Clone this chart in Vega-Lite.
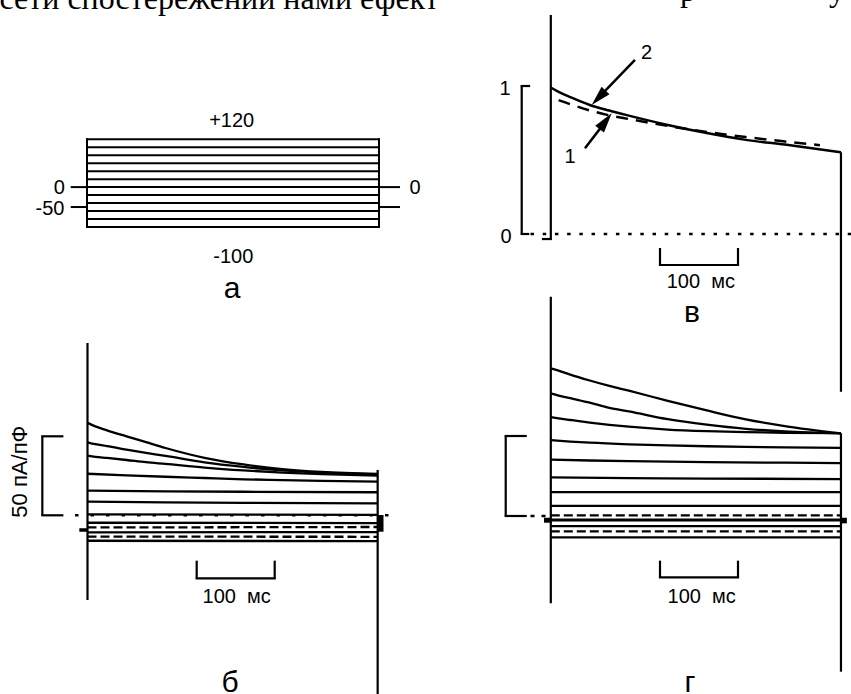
{
"$schema": "https://vega.github.io/schema/vega-lite/v6.json",
"width": 851, "height": 694,
"autosize": {"type": "none"},
"padding": 0,
"background": "white",
"config": {"view": {"stroke": null}},
"datasets": {
"a_h": [{"t":0,"t2":372,"y":-100},{"t":0,"t2":372,"y":-80},{"t":0,"t2":372,"y":-60},{"t":0,"t2":372,"y":-40},{"t":0,"t2":372,"y":-20},{"t":0,"t2":372,"y":0},{"t":0,"t2":372,"y":20},{"t":0,"t2":372,"y":40},{"t":0,"t2":372,"y":60},{"t":0,"t2":372,"y":80},{"t":0,"t2":372,"y":100},{"t":0,"t2":372,"y":120},{"t":-19.5,"t2":0,"y":0},{"t":-19.5,"t2":0,"y":-50},{"t":372,"t2":397.5,"y":0},{"t":372,"t2":397.5,"y":-50}],
"a_v": [{"t":0,"y":-100,"y2":120},{"t":372,"y":-100,"y2":120}],
"a_txt": [{"t":184.3,"y":151.5,"label":"+120"},{"t":186.4,"y":-189.7,"label":"-100"},{"t":-35.3,"y":-18.1,"label":"0"},{"t":-47.1,"y":-70,"label":"-50"},{"t":417.8,"y":-18.1,"label":"0"}],
"a_lbl": [{"t":184.7,"y":-279,"label":"а"}],
"page": [{"t":-111.5,"y":446.8,"label":"сети спостережений нами ефект"}],
"page2": [{"t":765.6,"y":466.9,"label":"р"},{"t":955.4,"y":466.9,"label":"у"}],
"b_tr": [
{"id":"b1","t":0,"y":58.5},{"id":"b1","t":10,"y":56.3},{"id":"b1","t":25,"y":53.8},{"id":"b1","t":50,"y":50.0},{"id":"b1","t":75,"y":46.3},{"id":"b1","t":100,"y":42.6},{"id":"b1","t":150,"y":36.4},{"id":"b1","t":200,"y":32.2},{"id":"b1","t":250,"y":29.2},{"id":"b1","t":300,"y":27.4},{"id":"b1","t":372,"y":26.2},
{"id":"b2","t":0,"y":46.2},{"id":"b2","t":10,"y":45.0},{"id":"b2","t":25,"y":43.8},{"id":"b2","t":50,"y":41.6},{"id":"b2","t":75,"y":39.5},{"id":"b2","t":100,"y":37.6},{"id":"b2","t":150,"y":33.5},{"id":"b2","t":200,"y":30.6},{"id":"b2","t":250,"y":28.4},{"id":"b2","t":300,"y":27.0},{"id":"b2","t":372,"y":25.9},
{"id":"b3","t":0,"y":37.8},{"id":"b3","t":10,"y":37.0},{"id":"b3","t":25,"y":36.3},{"id":"b3","t":50,"y":35.0},{"id":"b3","t":75,"y":33.6},{"id":"b3","t":100,"y":32.5},{"id":"b3","t":150,"y":30.2},{"id":"b3","t":200,"y":28.4},{"id":"b3","t":250,"y":27.0},{"id":"b3","t":300,"y":26.0},{"id":"b3","t":372,"y":25.1},
{"id":"b4","t":0,"y":26.3},{"id":"b4","t":50,"y":25.3},{"id":"b4","t":100,"y":24.4},{"id":"b4","t":150,"y":23.6},{"id":"b4","t":200,"y":22.8},{"id":"b4","t":250,"y":22.3},{"id":"b4","t":300,"y":21.8},{"id":"b4","t":372,"y":21.3},
{"id":"b5","t":0,"y":15.6},{"id":"b5","t":100,"y":15.2},{"id":"b5","t":200,"y":14.9},{"id":"b5","t":372,"y":14.6},
{"id":"b6","t":0,"y":8.6},{"id":"b6","t":100,"y":8.2},{"id":"b6","t":200,"y":7.9},{"id":"b6","t":372,"y":7.6},
{"id":"b7","t":0,"y":0.6},{"id":"b7","t":372,"y":0.3},
{"id":"b8","t":0,"y":-4.7},{"id":"b8","t":372,"y":-4.9},
{"id":"b10","t":0,"y":-10.8},{"id":"b10","t":372,"y":-10.6},
{"id":"b12","t":0,"y":-16.1},{"id":"b12","t":372,"y":-16.4}],
"b_trd": [{"id":"b9","t":0,"y":-7.7},{"id":"b9","t":372,"y":-7.4},{"id":"b11","t":0,"y":-13.5},{"id":"b11","t":372,"y":-13.6}],
"b_rv": [{"t":0,"y":109.1,"y2":-53.6},{"t":372,"y":28.7,"y2":-120},{"t":-57.9,"y":50,"y2":0},{"t":140,"y":-28.7,"y2":-39.9},{"t":240,"y":-28.7,"y2":-39.9}],
"b_rh": [{"t":-57.9,"t2":-32.3,"y":50},{"t":-57.9,"t2":-32.3,"y":0},{"t":140,"t2":240,"y":-39.9}],
"b_hold": [{"t":-10.5,"t2":0,"y":-9.3}],
"b_zero": [{"t":-16,"t2":394.2,"y":0}],
"b_rect": [{"t":372,"t2":379.5,"y":0.2,"y2":-10.4}],
"b_txt": [{"t":191.3,"y":-55.7,"label":"100\u00a0\u00a0мс"}],
"b_lbl": [{"t":182.7,"y":-111.6,"label":"б"}],
"b_rot": [{"t":-77.2,"y":27.6,"label":"50 пА/пФ"}],
"v_tr2": [{"t":0,"y":0.99},{"t":10,"y":0.96},{"t":25,"y":0.925},{"t":50,"y":0.872},{"t":75,"y":0.834},{"t":100,"y":0.8},{"t":150,"y":0.737},{"t":200,"y":0.682},{"t":250,"y":0.636},{"t":300,"y":0.604},{"t":372,"y":0.552}],
"v_tr1": [{"t":10,"y":0.905},{"t":25,"y":0.877},{"t":50,"y":0.835},{"t":75,"y":0.802},{"t":100,"y":0.777},{"t":150,"y":0.73},{"t":200,"y":0.69},{"t":250,"y":0.655},{"t":300,"y":0.625},{"t":345,"y":0.6}],
"v_rv": [{"t":0,"y":1.48,"y2":-0.034},{"t":372,"y":0.552,"y2":-1.066},{"t":-37.3,"y":1,"y2":0},{"t":140,"y":-0.0946,"y2":-0.2095},{"t":240,"y":-0.0946,"y2":-0.2095}],
"v_rh": [{"t":-37.3,"t2":-27.9,"y":1},{"t":-37.3,"t2":-29,"y":0},{"t":-10,"t2":0,"y":-0.034},{"t":140,"t2":240,"y":-0.2095}],
"v_zero": [{"t":-26,"t2":385,"y":0}],
"v_shaft": [{"t":107.9,"y":1.176,"t2":63.1,"y2":0.932},{"t":43.8,"y":0.579,"t2":70.3,"y2":0.761}],
"v_head2": [{"t":52.4,"y":0.872}],
"v_head1": [{"t":78.1,"y":0.816}],
"v_txt": [{"t":122.9,"y":1.18,"label":"2"},{"t":24.6,"y":0.478,"label":"1"},{"t":-58.7,"y":0.939,"label":"1"},{"t":-57.4,"y":-0.063,"label":"0"},{"t":192.3,"y":-0.367,"label":"100\u00a0\u00a0мс"}],
"v_lbl": [{"t":181,"y":-0.5926,"label":"в"}],
"g_tr": [
{"id":"g1","t":0,"y":92.3},{"id":"g1","t":10,"y":90.9},{"id":"g1","t":25,"y":88.4},{"id":"g1","t":50,"y":84.7},{"id":"g1","t":75,"y":81.3},{"id":"g1","t":100,"y":78.3},{"id":"g1","t":150,"y":72.0},{"id":"g1","t":200,"y":66.0},{"id":"g1","t":250,"y":60.4},{"id":"g1","t":300,"y":56.2},{"id":"g1","t":372,"y":51.6},
{"id":"g2","t":0,"y":76.7},{"id":"g2","t":10,"y":75.3},{"id":"g2","t":25,"y":73.6},{"id":"g2","t":50,"y":70.8},{"id":"g2","t":75,"y":67.6},{"id":"g2","t":100,"y":65.4},{"id":"g2","t":150,"y":60.5},{"id":"g2","t":200,"y":57.1},{"id":"g2","t":250,"y":54.5},{"id":"g2","t":300,"y":52.9},{"id":"g2","t":372,"y":51.6},
{"id":"g3","t":0,"y":61.8},{"id":"g3","t":10,"y":61.0},{"id":"g3","t":25,"y":60.0},{"id":"g3","t":50,"y":58.4},{"id":"g3","t":75,"y":57.0},{"id":"g3","t":100,"y":55.8},{"id":"g3","t":150,"y":54.0},{"id":"g3","t":200,"y":53.0},{"id":"g3","t":250,"y":52.4},{"id":"g3","t":300,"y":52.0},{"id":"g3","t":372,"y":51.8},
{"id":"g4","t":0,"y":47.4},{"id":"g4","t":25,"y":46.5},{"id":"g4","t":50,"y":45.8},{"id":"g4","t":100,"y":44.8},{"id":"g4","t":150,"y":44.1},{"id":"g4","t":200,"y":43.6},{"id":"g4","t":250,"y":43.2},{"id":"g4","t":300,"y":42.9},{"id":"g4","t":372,"y":42.6},
{"id":"g5","t":0,"y":35.2},{"id":"g5","t":50,"y":34.7},{"id":"g5","t":100,"y":34.3},{"id":"g5","t":200,"y":33.7},{"id":"g5","t":300,"y":33.3},{"id":"g5","t":372,"y":33.1},
{"id":"g6","t":0,"y":24.1},{"id":"g6","t":100,"y":23.7},{"id":"g6","t":200,"y":23.4},{"id":"g6","t":372,"y":23.1},
{"id":"g7","t":0,"y":14.9},{"id":"g7","t":372,"y":14.9},
{"id":"g8","t":0,"y":6.3},{"id":"g8","t":372,"y":6.3},
{"id":"g11","t":0,"y":-6.3},{"id":"g11","t":372,"y":-6.3},
{"id":"g13","t":0,"y":-13.4},{"id":"g13","t":372,"y":-13.4}],
"g_trd": [{"id":"g9","t":0,"y":0.4},{"id":"g9","t":372,"y":0.4},{"id":"g12","t":0,"y":-9.6},{"id":"g12","t":372,"y":-9.6}],
"g_thick": [{"id":"g10","t":0,"y":-2.5},{"id":"g10","t":372,"y":-2.5}],
"g_rv": [{"t":0,"y":137.1,"y2":-54.6},{"t":372,"y":51.7,"y2":-97.3},{"t":-57.8,"y":50,"y2":0},{"t":140,"y":-27.9,"y2":-38.3},{"t":240,"y":-27.9,"y2":-38.3}],
"g_rh": [{"t":-57.8,"t2":-32.2,"y":50},{"t":-57.8,"t2":-32.2,"y":0},{"t":140,"t2":240,"y":-38.3}],
"g_zero": [{"t":-26,"t2":-6,"y":0}],
"g_rect": [{"t":-8.7,"t2":1.5,"y":-1.1,"y2":-4.2},{"t":371,"t2":379.6,"y":-1.1,"y2":-4.6}],
"g_txt": [{"t":193.5,"y":-54.2,"label":"100\u00a0\u00a0мс"}],
"g_lbl": [{"t":178.5,"y":-110.2,"label":"г"}]
},
"resolve": {"scale": {"x": "independent", "y": "independent"}},
"layer": [
{
"encoding": {
"x": {"field": "t", "type": "quantitative", "scale": {"domain": [-110.83, 973.25], "nice": false, "zero": false}, "axis": null},
"y": {"field": "y", "type": "quantitative", "scale": {"domain": [-1271.7, 469.4], "nice": false, "zero": false}, "axis": null}
},
"layer": [
{"data": {"name": "a_h"}, "mark": {"type": "rule", "strokeWidth": 2, "color": "black", "strokeCap": "square"}, "encoding": {"x2": {"field": "t2"}}},
{"data": {"name": "a_v"}, "mark": {"type": "rule", "strokeWidth": 2, "color": "black", "strokeCap": "square"}, "encoding": {"y2": {"field": "y2"}}},
{"data": {"name": "a_txt"}, "mark": {"type": "text", "font": "Liberation Sans", "fontSize": 20, "align": "center", "baseline": "alphabetic", "color": "black"}, "encoding": {"text": {"field": "label"}}},
{"data": {"name": "a_lbl"}, "mark": {"type": "text", "font": "Liberation Sans", "fontSize": 30, "align": "center", "baseline": "alphabetic", "color": "black"}, "encoding": {"text": {"field": "label"}}},
{"data": {"name": "page"}, "mark": {"type": "text", "font": "Liberation Serif", "fontSize": 32, "align": "left", "baseline": "alphabetic", "color": "black"}, "encoding": {"text": {"field": "label"}}},
{"data": {"name": "page2"}, "mark": {"type": "text", "font": "Liberation Serif", "fontSize": 32, "align": "center", "baseline": "alphabetic", "color": "black"}, "encoding": {"text": {"field": "label"}}}
]
},
{
"encoding": {
"x": {"field": "t", "type": "quantitative", "scale": {"domain": [-112.18, 978.85], "nice": false, "zero": false}, "axis": null},
"y": {"field": "y", "type": "quantitative", "scale": {"domain": [-113.1, 326.14], "nice": false, "zero": false}, "axis": null}
},
"layer": [
{"data": {"name": "b_tr"}, "mark": {"type": "line", "strokeWidth": 2.3, "color": "black", "interpolate": "monotone"}, "encoding": {"detail": {"field": "id"}}},
{"data": {"name": "b_trd"}, "mark": {"type": "line", "strokeWidth": 2.3, "color": "black", "strokeDash": [9, 4]}, "encoding": {"detail": {"field": "id"}}},
{"data": {"name": "b_rv"}, "mark": {"type": "rule", "strokeWidth": 2.2, "color": "black"}, "encoding": {"y2": {"field": "y2"}}},
{"data": {"name": "b_rh"}, "mark": {"type": "rule", "strokeWidth": 2.2, "color": "black", "strokeCap": "square"}, "encoding": {"x2": {"field": "t2"}}},
{"data": {"name": "b_hold"}, "mark": {"type": "rule", "strokeWidth": 3.5, "color": "black"}, "encoding": {"x2": {"field": "t2"}}},
{"data": {"name": "b_zero"}, "mark": {"type": "rule", "strokeWidth": 2.5, "color": "black", "strokeDash": [3.5, 12]}, "encoding": {"x2": {"field": "t2"}}},
{"data": {"name": "b_rect"}, "mark": {"type": "rect", "color": "black"}, "encoding": {"x2": {"field": "t2"}, "y2": {"field": "y2"}}},
{"data": {"name": "b_txt"}, "mark": {"type": "text", "font": "Liberation Sans", "fontSize": 20, "align": "center", "baseline": "alphabetic", "color": "black"}, "encoding": {"text": {"field": "label"}}},
{"data": {"name": "b_lbl"}, "mark": {"type": "text", "font": "Liberation Sans", "fontSize": 30, "align": "center", "baseline": "alphabetic", "color": "black"}, "encoding": {"text": {"field": "label"}}},
{"data": {"name": "b_rot"}, "mark": {"type": "text", "font": "Liberation Sans", "fontSize": 22, "align": "center", "baseline": "alphabetic", "angle": 270, "color": "black"}, "encoding": {"text": {"field": "label"}}}
]
},
{
"encoding": {
"x": {"field": "t", "type": "quantitative", "scale": {"domain": [-706.15, 384.87], "nice": false, "zero": false}, "axis": null},
"y": {"field": "y", "type": "quantitative", "scale": {"domain": [-3.1081, 1.5811], "nice": false, "zero": false}, "axis": null}
},
"layer": [
{"data": {"name": "v_tr2"}, "mark": {"type": "line", "strokeWidth": 2.5, "color": "black", "interpolate": "monotone"}},
{"data": {"name": "v_tr1"}, "mark": {"type": "line", "strokeWidth": 2.5, "color": "black", "interpolate": "monotone", "strokeDash": [12, 8]}},
{"data": {"name": "v_rv"}, "mark": {"type": "rule", "strokeWidth": 2.2, "color": "black"}, "encoding": {"y2": {"field": "y2"}}},
{"data": {"name": "v_rh"}, "mark": {"type": "rule", "strokeWidth": 2.2, "color": "black", "strokeCap": "square"}, "encoding": {"x2": {"field": "t2"}}},
{"data": {"name": "v_zero"}, "mark": {"type": "rule", "strokeWidth": 2.5, "color": "black", "strokeDash": [3.5, 8.7]}, "encoding": {"x2": {"field": "t2"}}},
{"data": {"name": "v_shaft"}, "mark": {"type": "rule", "strokeWidth": 2.5, "color": "black"}, "encoding": {"x2": {"field": "t2"}, "y2": {"field": "y2"}}},
{"data": {"name": "v_head2"}, "mark": {"type": "point", "shape": "M0,0L1.1,4L-1.1,4Z", "size": 100, "filled": true, "color": "black", "opacity": 1, "strokeWidth": 0, "angle": 223.9}},
{"data": {"name": "v_head1"}, "mark": {"type": "point", "shape": "M0,0L1.1,4L-1.1,4Z", "size": 100, "filled": true, "color": "black", "opacity": 1, "strokeWidth": 0, "angle": 37.3}},
{"data": {"name": "v_txt"}, "mark": {"type": "text", "font": "Liberation Sans", "fontSize": 20, "align": "center", "baseline": "alphabetic", "color": "black"}, "encoding": {"text": {"field": "label"}}},
{"data": {"name": "v_lbl"}, "mark": {"type": "text", "font": "Liberation Sans", "fontSize": 30, "align": "center", "baseline": "alphabetic", "color": "black"}, "encoding": {"text": {"field": "label"}}}
]
},
{
"encoding": {
"x": {"field": "t", "type": "quantitative", "scale": {"domain": [-706.15, 384.87], "nice": false, "zero": false}, "axis": null},
"y": {"field": "y", "type": "quantitative", "scale": {"domain": [-111.25, 322.5], "nice": false, "zero": false}, "axis": null}
},
"layer": [
{"data": {"name": "g_tr"}, "mark": {"type": "line", "strokeWidth": 2.3, "color": "black", "interpolate": "monotone"}, "encoding": {"detail": {"field": "id"}}},
{"data": {"name": "g_trd"}, "mark": {"type": "line", "strokeWidth": 2.3, "color": "black", "strokeDash": [9, 4]}, "encoding": {"detail": {"field": "id"}}},
{"data": {"name": "g_thick"}, "mark": {"type": "line", "strokeWidth": 3, "color": "black"}, "encoding": {"detail": {"field": "id"}}},
{"data": {"name": "g_rv"}, "mark": {"type": "rule", "strokeWidth": 2.2, "color": "black"}, "encoding": {"y2": {"field": "y2"}}},
{"data": {"name": "g_rh"}, "mark": {"type": "rule", "strokeWidth": 2.2, "color": "black", "strokeCap": "square"}, "encoding": {"x2": {"field": "t2"}}},
{"data": {"name": "g_zero"}, "mark": {"type": "rule", "strokeWidth": 2.5, "color": "black", "strokeDash": [4, 7]}, "encoding": {"x2": {"field": "t2"}}},
{"data": {"name": "g_rect"}, "mark": {"type": "rect", "color": "black"}, "encoding": {"x2": {"field": "t2"}, "y2": {"field": "y2"}}},
{"data": {"name": "g_txt"}, "mark": {"type": "text", "font": "Liberation Sans", "fontSize": 20, "align": "center", "baseline": "alphabetic", "color": "black"}, "encoding": {"text": {"field": "label"}}},
{"data": {"name": "g_lbl"}, "mark": {"type": "text", "font": "Liberation Sans", "fontSize": 30, "align": "center", "baseline": "alphabetic", "color": "black"}, "encoding": {"text": {"field": "label"}}}
]
}
]
}
